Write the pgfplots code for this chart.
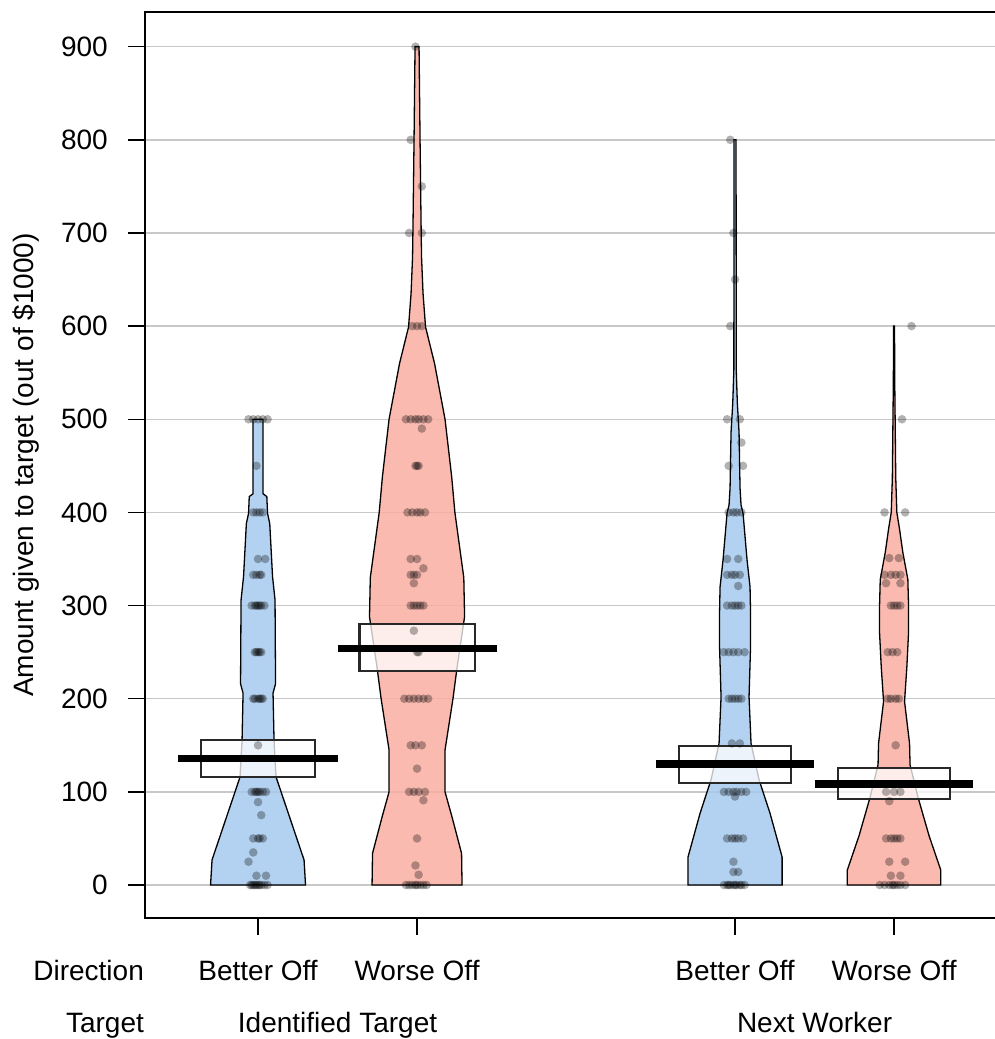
\documentclass[border=0pt]{standalone}
\usepackage{fontspec}
\setmainfont{Liberation Sans}
\usepackage{pgfplots}
\pgfplotsset{compat=1.18}
\definecolor{beanblue}{RGB}{166,201,237}
\definecolor{beanred}{RGB}{249,174,162}
\definecolor{gridgray}{RGB}{200,200,200}
\definecolor{boxgray}{RGB}{40,40,40}
\newcommand{\lab}{\fontsize{28}{33}\selectfont}
\begin{document}
\begin{tikzpicture}
\begin{axis}[
  name=ax,
  scale only axis,
  width=852pt, height=906pt,
  xmin=0.289, xmax=5.6475,
  ymin=-35.4, ymax=937.2,
  xtick={1,2,4,5},
  xticklabels={Better Off, Worse Off, Better Off, Worse Off},
  ytick={0,100,...,900},
  ymajorgrids,
  grid style={gridgray, line width=1.4pt},
  xtick pos=bottom, ytick pos=left,
  tick align=outside,
  major tick length=17pt,
  tick style={black, line width=1.5pt},
  axis line style={black, line width=1.5pt},
  every tick label/.append style={font=\lab},
  /pgf/number format/assume math mode=true,
  yticklabel style={anchor=east, inner sep=0pt, xshift=-20pt},
  xticklabel style={anchor=base, inner sep=0pt, yshift=-45pt},
  clip=false,
]
% ---- beans ----
\addplot[fill=beanblue, fill opacity=0.85, draw=black, line width=1.3pt] coordinates {
(1.2987,0)(1.2893,27)(1.1132,116)(1.1006,155)(1.0943,206)(1.1101,216)(1.1069,306)(1.0912,331)(1.0736,388)(1.0597,399)(1.0553,417)(1.0314,420)(1.0314,500)
(0.9686,500)(0.9686,420)(0.9447,417)(0.9403,399)(0.9264,388)(0.9088,331)(0.8931,306)(0.8899,216)(0.9057,206)(0.8994,155)(0.8868,116)(0.7107,27)(0.7013,0)} -- cycle;
\addplot[fill=beanred, fill opacity=0.85, draw=black, line width=1.3pt] coordinates {
(2.283,0)(2.280,34)(2.220,73)(2.176,100)(2.176,145)(2.226,200)(2.252,234)(2.299,288)(2.294,330)(2.238,400)(2.218,438)(2.176,500)(2.110,560)(2.0535,599)(2.0377,635)(2.0283,674)(2.0252,711)(2.0189,800)(2.0126,900)
(1.9874,900)(1.9811,800)(1.9748,711)(1.9717,674)(1.9623,635)(1.9465,599)(1.890,560)(1.824,500)(1.782,438)(1.762,400)(1.706,330)(1.701,288)(1.748,234)(1.774,200)(1.824,145)(1.824,100)(1.780,73)(1.720,34)(1.717,0)} -- cycle;
\addplot[fill=beanblue, fill opacity=0.85, draw=black, line width=1.3pt] coordinates {
(4.296,0)(4.296,30)(4.220,77)(4.151,113)(4.1006,152)(4.088,202)(4.0975,256)(4.0975,292)(4.0943,320)(4.0755,349)(4.0503,399)(4.0377,408)(4.0314,426)(4.0252,486)(4.0145,517)(4.0075,553)(4.0063,800)
(3.9937,800)(3.9925,553)(3.9855,517)(3.9748,486)(3.9686,426)(3.9623,408)(3.9497,399)(3.9245,349)(3.9057,320)(3.9025,292)(3.9025,256)(3.912,202)(3.8994,152)(3.849,113)(3.780,77)(3.704,30)(3.704,0)} -- cycle;
\addplot[fill=beanred, fill opacity=0.85, draw=black, line width=1.3pt] coordinates {
(5.294,0)(5.294,16)(5.220,53)(5.151,94)(5.1006,129)(5.0975,152)(5.066,197)(5.0805,234)(5.0912,271)(5.0912,300)(5.0868,328)(5.0553,357)(5.0346,382)(5.0176,400)(5.0107,437)(5.0044,540)(5.003,600)
(4.997,600)(4.9956,540)(4.9893,437)(4.9824,400)(4.9654,382)(4.9447,357)(4.9132,328)(4.9088,300)(4.9088,271)(4.9195,234)(4.934,197)(4.9025,152)(4.8994,129)(4.849,94)(4.780,53)(4.706,16)(4.706,0)} -- cycle;
% ---- points ----
\pgfplotsset{pts/.style={only marks, mark=*, mark size=4.3pt, mark options={draw opacity=0, fill=black, fill opacity=0.3}}}
\addplot[pts] coordinates {
(0.94,500)(0.97,500)(1.0,500)(1.03,500)(1.06,500)(0.99,450)
(0.97,400)(0.99,400)(1.01,400)(1.03,400)(1.0,350)(1.045,350)
(0.97,333)(0.99,333)(1.01,333)(1.02,333)
(0.96,300)(0.98,300)(0.99,300)(1.0,300)(1.01,300)(1.02,300)(1.04,300)
(0.98,250)(0.99,250)(1.0,250)(1.01,250)(1.02,250)
(0.97,200)(0.98,200)(1.0,200)(1.01,200)(1.02,200)(1.03,200)(1.0,150)
(0.96,100)(0.98,100)(0.99,100)(1.0,100)(1.01,100)(1.03,100)(1.05,100)
(1.0,89)(1.02,75)(0.97,50)(1.0,50)(1.01,50)(1.03,50)(0.97,35)(0.94,25)(0.99,10)(1.05,10)
(0.95,0)(0.96,0)(0.97,0)(0.98,0)(0.99,0)(1.0,0)(1.01,0)(1.02,0)(1.04,0)(1.06,0)};
\addplot[pts] coordinates {
(1.99,900)(1.96,800)(2.03,750)(1.95,700)(2.03,700)(1.97,600)(2.0,600)(2.03,600)
(1.93,500)(1.96,500)(1.99,500)(2.01,500)(2.04,500)(2.07,500)(2.03,490)
(1.99,450)(2.0,450)(2.01,450)(1.94,400)(1.97,400)(2.0,400)(2.02,400)(2.05,400)
(1.96,350)(2.0,350)(2.04,340)(1.96,333)(1.98,333)(2.0,333)(1.98,324)
(1.96,300)(1.98,300)(2.0,300)(2.02,300)(2.04,300)(1.98,273)(2.0,250)(2.01,250)
(1.92,200)(1.95,200)(1.98,200)(2.01,200)(2.04,200)(2.07,200)
(1.96,150)(1.99,150)(2.03,150)(2.0,125)(1.95,100)(1.98,100)(2.01,100)(2.05,100)(2.04,91)
(2.0,50)(1.99,21)(2.01,11)
(1.93,0)(1.95,0)(1.97,0)(1.99,0)(2.0,0)(2.02,0)(2.04,0)(2.06,0)};
\addplot[pts] coordinates {
(3.97,800)(3.99,700)(4.0,650)(3.97,600)(3.95,500)(4.03,500)(4.04,475)(3.96,450)(4.05,450)
(3.96,400)(3.99,400)(4.01,400)(4.04,400)(3.95,350)(4.02,350)
(3.95,333)(3.98,333)(4.0,333)(4.03,333)(4.02,321)
(3.95,300)(3.98,300)(4.0,300)(4.02,300)(4.04,300)
(3.93,250)(3.96,250)(3.99,250)(4.02,250)(4.06,250)
(3.96,200)(3.98,200)(4.0,200)(4.02,200)(4.04,200)(3.98,152)(4.03,152)
(3.93,100)(3.96,100)(3.99,100)(4.01,100)(4.04,100)(4.07,100)(4.0,95)
(3.95,50)(3.98,50)(4.0,50)(4.02,50)(4.05,50)(3.99,25)(3.99,14)(4.02,14)
(3.93,0)(3.95,0)(3.96,0)(3.97,0)(3.99,0)(4.0,0)(4.01,0)(4.03,0)(4.04,0)(4.06,0)};
\addplot[pts] coordinates {
(5.11,600)(5.05,500)(4.94,400)(5.07,400)(4.97,351)(5.03,351)
(4.94,333)(4.98,333)(5.01,333)(5.04,333)(4.95,324)(5.04,324)
(4.98,300)(5.0,300)(5.02,300)(5.04,300)(4.96,250)(4.99,250)(5.02,250)
(4.96,200)(4.98,200)(5.01,200)(5.03,200)(5.01,150)
(4.95,100)(5.0,100)(5.04,100)(4.97,90)
(4.95,50)(4.98,50)(5.0,50)(5.02,50)(5.04,50)(4.97,25)(5.07,25)(4.98,10)(5.04,10)
(4.91,0)(4.94,0)(4.97,0)(4.99,0)(5.0,0)(5.02,0)(5.04,0)(5.07,0)};
% ---- HDI boxes ----
\pgfplotsset{hdi/.style={draw=boxgray, fill=white, fill opacity=0.75, line width=2.2pt}}
\addplot[hdi] coordinates {(0.642,116)(1.358,116)(1.358,155.5)(0.642,155.5)} -- cycle;
\addplot[hdi] coordinates {(1.638,229.5)(2.362,229.5)(2.362,280)(1.638,280)} -- cycle;
\addplot[hdi] coordinates {(3.648,109.5)(4.352,109.5)(4.352,149)(3.648,149)} -- cycle;
\addplot[hdi] coordinates {(4.648,92)(5.352,92)(5.352,126)(4.648,126)} -- cycle;
% ---- means ----
\addplot[black, line width=7.5pt] coordinates {(0.497,136)(1.503,136)};
\addplot[black, line width=7.5pt] coordinates {(1.5,254)(2.5,254)};
\addplot[black, line width=7.5pt] coordinates {(3.503,130)(4.497,130)};
\addplot[black, line width=7.5pt] coordinates {(4.503,108.5)(5.497,108.5)};
% ---- labels ----
\node[anchor=base east, font=\lab, inner sep=0pt] at (axis cs:0.283,-102) {Direction};
\node[anchor=base east, font=\lab, inner sep=0pt] at (axis cs:0.283,-157.8) {Target};
\node[anchor=base, font=\lab, inner sep=0pt] at (axis cs:1.5,-157.8) {Identified Target};
\node[anchor=base, font=\lab, inner sep=0pt] at (axis cs:4.5,-157.8) {Next Worker};
\node[anchor=base, rotate=90, font=\lab, inner sep=0pt] at (axis cs:-0.41,450.9) {Amount given to target (out of \$1000)};
\end{axis}
\pgfresetboundingbox
\path[use as bounding box] ([xshift=-145pt,yshift=-121pt]ax.south west) rectangle ++(995pt,1039pt);
\end{tikzpicture}
\end{document}
